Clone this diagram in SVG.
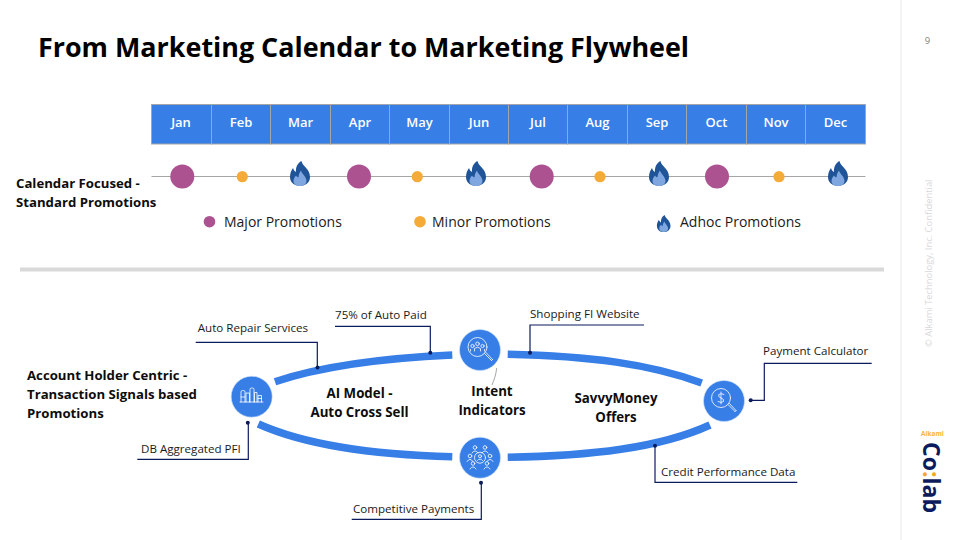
<svg xmlns="http://www.w3.org/2000/svg" xmlns:xlink="http://www.w3.org/1999/xlink" width="960" height="540" viewBox="0 0 960 540">
<style>
text{font-family:"Open Sans","Noto Sans","Liberation Sans",sans-serif;}
.title{font-size:26.900px;font-weight:700;fill:#000}
.mon{font-size:13px;font-weight:600;fill:#fff;text-anchor:middle}
.cell{fill:#377ee6;stroke:#a6a6a6;stroke-width:1}
.maj{fill:#ad5291}.min{fill:#f5ab38}
.leg{font-size:14px;fill:#1a1a1a}
.head{font-size:13.200px;font-weight:700;fill:#0d0d0d}
.mid{font-size:13.300px;font-weight:700;fill:#0d0d0d;text-anchor:middle}
.lbl{font-size:11.600px;fill:#1a1a1a}
.arc{fill:none;stroke:#377ee6;stroke-width:7.5}
.call{fill:none;stroke:#0b1b5e;stroke-width:1.2}
.dot{fill:#0b1b5e}
.bub{fill:#377ee6;stroke:#cfe0f8;stroke-width:.6}
.ic{fill:none;stroke:#fff;stroke-width:.8;stroke-linecap:round;stroke-linejoin:round}
</style>
<defs>
<g id="flame">
<path fill="#1f5498" d="M1.500,-12.500C2,-7.500 10,-5 10,3.500C10,9 5.500,12.500 0,12.500C-5.500,12.500 -10,9 -10,3.500C-10,-.5 -8.500,-3.500 -7,-5.500C-6.500,-3.500 -5.500,-2.500 -4,-1.500C-4.500,-6 -2.500,-10.500 1.500,-12.500Z"/>
<path fill="#7fa6de" d="M1,-3C1.500,0 6.500,3 6.500,7.500C6.500,10.500 3.500,12.500 0,12.500C-3.500,12.500 -6.500,10.500 -6.500,7.500C-6.500,5 -5,3 -4,2C-3.500,3 -2.500,3.500 -1.500,4C-1.500,1.500 -.5,-1 1,-3Z"/>
</g>
</defs>
<rect width="960" height="540" fill="#fff"/>
<rect x="900" y="0" width="2" height="540" fill="#f4f4f4"/>
<text class="title" x="38" y="57">From Marketing Calendar to Marketing Flywheel</text>

<g id="calendar">
<rect class="cell" x="151.500" y="104.500" width="60" height="39.500"/><rect class="cell" x="211.500" y="104.500" width="59" height="39.500"/><rect class="cell" x="270.500" y="104.500" width="60" height="39.500"/><rect class="cell" x="330.500" y="104.500" width="59" height="39.500"/><rect class="cell" x="389.500" y="104.500" width="60" height="39.500"/><rect class="cell" x="449.500" y="104.500" width="59" height="39.500"/><rect class="cell" x="508.500" y="104.500" width="59" height="39.500"/><rect class="cell" x="567.500" y="104.500" width="60" height="39.500"/><rect class="cell" x="627.500" y="104.500" width="59" height="39.500"/><rect class="cell" x="686.500" y="104.500" width="60" height="39.500"/><rect class="cell" x="746.500" y="104.500" width="59" height="39.500"/><rect class="cell" x="805.500" y="104.500" width="60" height="39.500"/>
<text class="mon" x="181" y="127">Jan</text><text class="mon" x="241" y="127">Feb</text><text class="mon" x="300.500" y="127">Mar</text><text class="mon" x="360" y="127">Apr</text><text class="mon" x="419.500" y="127">May</text><text class="mon" x="479" y="127">Jun</text><text class="mon" x="538" y="127">Jul</text><text class="mon" x="597.500" y="127">Aug</text><text class="mon" x="657" y="127">Sep</text><text class="mon" x="716.500" y="127">Oct</text><text class="mon" x="776" y="127">Nov</text><text class="mon" x="835.500" y="127">Dec</text>
</g>

<g id="timeline">
<line x1="151.500" y1="176.500" x2="865.500" y2="176.500" stroke="#a6a6a6" stroke-width="1"/>
<circle class="maj" cx="182.300" cy="176.500" r="12"/>
<circle class="min" cx="242.300" cy="176.700" r="5.600"/>
<use xlink:href="#flame" href="#flame" x="300" y="173.500"/>
<circle class="maj" cx="359" cy="176.500" r="12"/>
<circle class="min" cx="417.300" cy="176.700" r="5.600"/>
<use xlink:href="#flame" href="#flame" x="476" y="173.500"/>
<circle class="maj" cx="541.700" cy="176.500" r="12"/>
<circle class="min" cx="600" cy="176.700" r="5.600"/>
<use xlink:href="#flame" href="#flame" x="659" y="173.500"/>
<circle class="maj" cx="717" cy="176.500" r="12"/>
<circle class="min" cx="779" cy="176.700" r="5.600"/>
<use xlink:href="#flame" href="#flame" x="838" y="173.500"/>
</g>

<g id="calendar-heading">
<text class="head" x="16" y="188">Calendar Focused -</text>
<text class="head" x="16" y="207">Standard Promotions</text>
</g>

<g id="legend">
<circle class="maj" cx="209.500" cy="221.700" r="5.800"/>
<text class="leg" x="224" y="227">Major Promotions</text>
<circle class="min" cx="420" cy="221.700" r="5.800"/>
<text class="leg" x="432" y="227">Minor Promotions</text>
<use xlink:href="#flame" href="#flame" transform="translate(663.700,223.500) scale(.68)"/>
<text class="leg" x="680" y="227">Adhoc Promotions</text>
</g>

<rect id="divider" x="20" y="267.500" width="864" height="4" fill="#d9d9d9"/>

<g id="connectors">
<path class="arc" d="M275,381.700C325,365 385,358 452.300,355"/>
<path class="arc" d="M507.700,354.300C590,356 650,364 701.700,383"/>
<path class="arc" d="M258.300,424C310,447 380,455 452.300,456.700"/>
<path class="arc" d="M507.700,457.300C590,456 660,448 710,425"/>
<path d="M496.700,368C496,375 494,380 492,385" fill="none" stroke="#a6a6a6" stroke-width="1"/>
<path class="call" d="M195.700,342.300H317.300V367.500"/><circle class="dot" cx="317.500" cy="367.500" r="2"/>
<path class="call" d="M335,326.300H430.300V352.700"/><circle class="dot" cx="430.300" cy="352.700" r="2"/>
<path class="call" d="M137.300,459.300H248.300V422.700"/><circle class="dot" cx="247.800" cy="422.700" r="2"/>
<path class="call" d="M351.700,519.300H481.300V482.700"/><circle class="dot" cx="481" cy="482.700" r="2"/>
<path class="call" d="M644,325H530V352.700"/><circle class="dot" cx="530" cy="352.700" r="2"/>
<path class="call" d="M871.700,363.300H764.300V400.300H750.700"/><circle class="dot" cx="750.700" cy="400.300" r="2"/>
<path class="call" d="M797.300,482.300H655V445.700"/><circle class="dot" cx="655" cy="445.700" r="2"/>
</g>

<g id="callout-labels">
<text class="lbl" x="197.700" y="332">Auto Repair Services</text>
<text class="lbl" x="335" y="319">75% of Auto Paid</text>
<text class="lbl" x="141" y="453">DB Aggregated PFI</text>
<text class="lbl" x="353" y="512.500">Competitive Payments</text>
<text class="lbl" x="530" y="317.500">Shopping FI Website</text>
<text class="lbl" x="763" y="354.500">Payment Calculator</text>
<text class="lbl" x="661" y="476">Credit Performance Data</text>
</g>

<g id="heading-account">
<text class="head" x="27" y="380">Account Holder Centric -</text>
<text class="head" x="27" y="399">Transaction Signals based</text>
<text class="head" x="27" y="418">Promotions</text>
</g>
<g id="label-ai"><text class="mid" x="359.500" y="398">AI Model -</text><text class="mid" x="359.500" y="416.500">Auto Cross Sell</text></g>
<g id="label-intent"><text class="mid" x="492" y="396">Intent</text><text class="mid" x="492" y="415">Indicators</text></g>
<g id="label-savvy"><text class="mid" x="616" y="403">SavvyMoney</text><text class="mid" x="616" y="422">Offers</text></g>

<g id="node-left">
<circle class="bub" cx="251.700" cy="396.700" r="20.500"/>
<path class="ic" d="M240,402H263M241,402V392Q241,390.500 242.500,390.500H243.500Q245,390.500 245,392V402M246,402V393H249.500V402M250,402V389.500Q250,388 251.500,388H252.500Q254,388 254,389.500V402M254.500,402V392.500H257V402M258,402V395.500H261.500V402M241,397H245M258,398.500H261.500"/>
</g>
<g id="node-top">
<circle class="bub" cx="480" cy="350" r="20.500"/>
<circle class="ic" cx="477.500" cy="347" r="9.500"/>
<path class="ic" d="M484.500,353.500L491.500,360.500M486,352.500L492.500,359.500M491.500,360.500L492.500,359.500"/>
<circle class="ic" cx="477.500" cy="343.800" r="1.800"/><circle class="ic" cx="472.500" cy="346" r="1.600"/><circle class="ic" cx="482.500" cy="346" r="1.600"/>
<path class="ic" d="M474.500,351V348.500Q477.500,345.800 480.500,348.500V351M470.500,351V349.500M484.500,351V349.500"/>
</g>
<g id="node-bottom">
<circle class="bub" cx="480" cy="457.700" r="20.500"/>
<circle class="ic" cx="480" cy="457.700" r="5.500"/><circle class="ic" cx="480" cy="456.200" r="1.500"/>
<path class="ic" d="M477.500,460.500Q480,457.500 482.500,460.500"/>
<circle class="ic" cx="475" cy="447.500" r="1.800"/><circle class="ic" cx="485" cy="447.500" r="1.800"/>
<path class="ic" d="M472,453Q475,448.500 478,453M482,453Q485,448.500 488,453"/>
<circle class="ic" cx="470" cy="456" r="1.800"/><circle class="ic" cx="490" cy="456" r="1.800"/>
<path class="ic" d="M467,461.500Q470,457 473,461.500M487,461.500Q490,457 493,461.500"/>
<circle class="ic" cx="473" cy="463.500" r="1.800"/><circle class="ic" cx="487" cy="463.500" r="1.800"/>
<path class="ic" d="M470,469Q473,464.500 476,469M484,469Q487,464.500 490,469"/>
</g>
<g id="node-right">
<circle class="bub" cx="724" cy="401" r="20.500"/>
<circle class="ic" cx="721" cy="398" r="9.500"/>
<path class="ic" d="M728,404.500L735,411.500M729.500,403.500L736,410.500M735,411.500L736,410.500"/>
<path class="ic" d="M724,394.500Q721,392.800 718.800,394.500Q717.800,397 721,398Q724.500,399 723.500,401.500Q721,403.500 718,401.500M721,392V404"/>
</g>

<g id="sidebar">
<text x="927.500" y="43.500" font-size="9.500" fill="#7f7f7f" text-anchor="middle">9</text>
<text transform="translate(932,347) rotate(-90)" font-size="9.400" fill="#d9d9d9">© Alkami Technology, Inc. Confidential</text>
<text x="921" y="436" font-size="6.500" font-weight="700" fill="#f8b735">Alkami</text>
<text transform="translate(922.500,442) rotate(90)" font-size="23" font-weight="700" fill="#0b1b5e">Co<tspan fill="#f5a623">:</tspan>lab</text>
</g>
</svg>
